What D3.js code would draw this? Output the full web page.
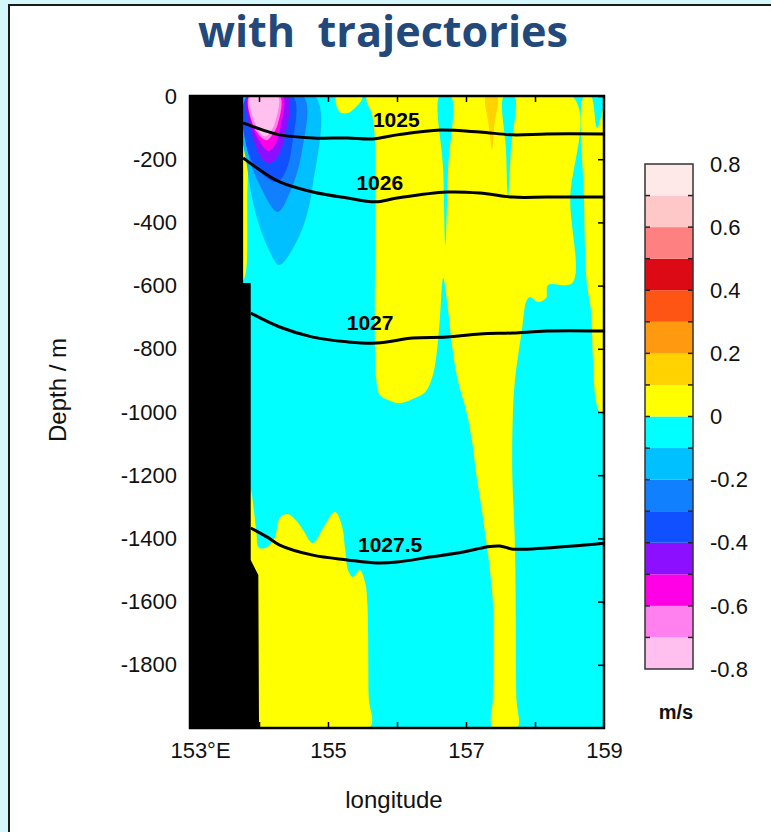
<!DOCTYPE html>
<html><head><meta charset="utf-8">
<script src="https://cdn.jsdelivr.net/npm/d3@7"></script>
<style>body{margin:0;background:#d4f7fc;} svg{display:block}</style>
</head><body><svg id="c" width="771" height="832"></svg>
<script>
// ---------- data ----------
const titleText = "with  trajectories";
const lonDomain = [153, 159];
const depthDomain = [0, 2000];            // metres below surface (drawn as negative labels)
const xLabelTicks = [153, 155, 157, 159];
const xMinorTicks = [154, 155, 156, 157, 158];
const depthTicks = [0, 200, 400, 600, 800, 1000, 1200, 1400, 1600, 1800];
const levelThresholds = [-0.7,-0.6,-0.5,-0.4,-0.3,-0.2,-0.1,0,0.1,0.2,0.3,0.4,0.5,0.6,0.7];
const levelEdges = [-0.8,-0.7,-0.6,-0.5,-0.4,-0.3,-0.2,-0.1,0,0.1,0.2,0.3,0.4,0.5,0.6,0.7,0.8];
const levelColors = ["#ffc0f0","#ff80ee","#ff00e6","#8c10ff","#1050ff","#1080ff","#00c0ff","#00ffff",
                     "#ffff00","#ffd200","#ff9a10","#ff5514","#dc0a14","#ff8080","#ffc8c8","#ffe8e8"];
const cbarLabels = [0.8,0.6,0.4,0.2,0,-0.2,-0.4,-0.6,-0.8];

// velocity regions: [lon, depth]
const regionBase = [[153,0],[159,0],[159,2000],[153,2000]];
const regionYellowMain = [[155.57,0],[158.54,0],[158.51,329],[158.54,592],[158.19,598],[158.16,639],[158.04,652],
  [157.93,636],[157.88,646],[157.81,741],[157.71,899],[157.68,1003],[157.67,1184],[157.71,1427],[157.73,1900],[157.74,2000],
  [157.39,2000],[157.39,1900],[157.39,1604],[157.25,1342],[157.14,1184],[157.10,1111],[157.01,1003],[156.88,899],[156.80,794],
  [156.74,677],[156.67,576],[156.62,709],[156.58,804],[156.52,883],[156.41,937],[156.26,956],[156.04,972],
  [155.87,962],[155.75,946],[155.70,899],[155.68,139],[155.64,60]];
const regionYellowTop = [[155.12,0],[155.49,0],[155.48,16],[155.39,38],[155.29,54],[155.17,51]];
const regionYellowRight = [[158.71,0],[158.81,0],[158.90,101],[159.00,38],[159.00,1000],[158.94,1000],
  [158.88,962],[158.84,835],[158.81,677],[158.75,592],[158.71,329]];
const regionYellowCoast = [[153.77,0],[153.83,0],[153.83,329],[153.81,557],[153.77,582]];
const regionYellowDeep = [[153.88,1247],[153.96,1374],[154.00,1430],[154.12,1427],[154.23,1396],[154.30,1335],
  [154.41,1323],[154.52,1339],[154.64,1374],[154.78,1415],[154.93,1367],[155.10,1316],[155.20,1358],
  [155.25,1437],[155.29,1500],[155.36,1522],[155.46,1500],[155.54,1541],[155.57,1604],[155.59,1900],[155.60,2000],[153.87,2000]];
const regionCyanSpike1 = [[156.62,0],[156.78,0],[156.74,234],[156.70,472],[156.67,234]];
const regionCyanSpike2 = [[157.55,0],[157.70,0],[157.65,171],[157.61,320],[157.58,171]];
const regionOrangeSpike = [[157.29,0],[157.45,0],[157.41,92],[157.38,171],[157.33,92]];
const core015 = [[153.78,0],[153.83,228],[153.97,386],[154.16,494],[154.29,535],[154.59,440],[154.78,282],[154.81,0]];
const core025 = [[153.83,0],[153.84,177],[154.01,282],[154.27,367],[154.45,304],[154.62,177],[154.64,0]];
const core035 = [[153.83,0],[153.84,177],[154.06,250],[154.26,272],[154.38,241],[154.48,155],[154.49,0]];
const core045 = [[153.84,0],[153.90,123],[154.06,203],[154.16,212],[154.26,196],[154.38,123],[154.41,0]];
const core055 = [[153.86,0],[153.93,110],[154.09,168],[154.13,174],[154.21,164],[154.31,100],[154.34,0]];
const core065 = [[153.86,0],[153.93,100],[154.06,136],[154.12,140],[154.17,130],[154.27,90],[154.30,0]];
const core075 = [[153.88,0],[153.93,80],[154.03,122],[154.09,128],[154.14,122],[154.24,78],[154.27,0]];
const landEdge = [[153,0],[153.77,0],[153.77,592],[153.88,592],[153.88,1468],[153.99,1516],[154.00,2000],[153,2000]];

// isopycnals (sigma labels)
const iso1025 = [[153.77,85],[154.06,108],[154.30,123],[154.78,133],[155.28,133],[155.65,136],[156.00,123],[156.58,108],[157.20,114],[157.68,123],[158.17,120],[159.00,120]];
const iso1026 = [[153.77,196],[153.97,228],[154.30,272],[154.78,304],[155.28,323],[155.68,335],[156.00,323],[156.72,304],[157.20,307],[157.68,320],[158.17,320],[159.00,320]];
const iso1027 = [[153.88,687],[154.30,731],[154.78,763],[155.28,778],[155.71,782],[156.23,766],[156.72,763],[157.20,753],[157.68,750],[158.17,744],[159.00,744]];
const iso10275 = [[153.88,1367],[154.12,1396],[154.30,1421],[154.78,1453],[155.28,1468],[155.71,1478],[156.00,1475],[156.48,1459],[156.96,1443],[157.30,1427],[157.49,1424],[157.68,1434],[158.17,1430],[159.00,1415]];
const isoNames = ["1025","1026","1027","1027.5"];
const isoLabelPos = [[155.99,98],[155.75,297],[155.61,741],[155.90,1443]];

// ---------- drawing ----------
const W = 771, H = 832;
const M = {left:190, right:604, top:96, bottom:728};
const x = d3.scaleLinear().domain(lonDomain).range([M.left, M.right]);
const y = d3.scaleLinear().domain(depthDomain).range([M.top, M.bottom]);
const color = d3.scaleThreshold().domain(levelThresholds).range(levelColors);
const font = '"Liberation Sans", Arial, Helvetica, sans-serif';

const svg = d3.select('#c');
svg.append('rect').attr('width',W).attr('height',H).attr('fill','#d4f7fc');
svg.append('rect').attr('x',9).attr('y',5).attr('width',W+20).attr('height',H+20)
  .attr('fill','#fff').attr('stroke','#1a1a1a').attr('stroke-width',2);

svg.append('text').attr('x',383).attr('y',47).attr('text-anchor','middle')
  .attr('font-family','"Open Sans", sans-serif').attr('font-weight',700).attr('font-size',43)
  .attr('fill','#23487a').attr('textLength',370).attr('lengthAdjust','spacingAndGlyphs')
  .style('white-space','pre').text(titleText);

svg.append('defs').append('clipPath').attr('id','clip').append('rect')
  .attr('x',M.left).attr('y',M.top).attr('width',M.right-M.left).attr('height',M.bottom-M.top);
const g = svg.append('g').attr('clip-path','url(#clip)');

const smooth = d3.line().x(d=>x(d[0])).y(d=>y(d[1])).curve(d3.curveCatmullRomClosed.alpha(0.5));
const straight = d3.line().x(d=>x(d[0])).y(d=>y(d[1])).curve(d3.curveLinearClosed);
const open = d3.line().x(d=>x(d[0])).y(d=>y(d[1])).curve(d3.curveCatmullRom.alpha(0.5));

g.append('path').attr('d', straight(regionBase)).attr('fill', color(-0.05));
const layers = [
  [regionYellowMain, 0.05], [regionYellowTop, 0.05], [regionYellowRight, 0.05],
  [regionYellowCoast, 0.05], [regionYellowDeep, 0.05],
  [regionCyanSpike1, -0.05], [regionCyanSpike2, -0.05], [regionOrangeSpike, 0.15],
  [core015, -0.15], [core025, -0.25], [core035, -0.35], [core045, -0.45],
  [core055, -0.55], [core065, -0.65], [core075, -0.75]
];
layers.forEach(([pts, v]) => g.append('path').attr('d', smooth(pts)).attr('fill', color(v)));
g.append('path').attr('d', straight(landEdge)).attr('fill', '#000');

[iso1025, iso1026, iso1027, iso10275].forEach(pts =>
  g.append('path').attr('d', open(pts)).attr('fill','none').attr('stroke','#000').attr('stroke-width',3));
isoLabelPos.forEach((p,i) => g.append('text').attr('x',x(p[0])).attr('y',y(p[1]))
  .attr('text-anchor','middle').attr('font-family',font).attr('font-weight',700).attr('font-size',21)
  .attr('fill','#000').text(isoNames[i]));

// axes
const fmtDepth = d => d === 0 ? '0' : '-' + d;
function styleAxis(sel, fs){
  sel.select('.domain').remove();
  sel.selectAll('line').attr('stroke','#000').attr('stroke-width',1.5);
  sel.selectAll('text').attr('font-family',font).attr('font-size',fs).attr('fill','#111');
}
svg.append('g').attr('transform',`translate(${M.left},0)`)
  .call(d3.axisLeft(y).tickValues(depthTicks).tickSize(-6).tickPadding(13).tickFormat(fmtDepth))
  .call(s=>styleAxis(s,22));
svg.append('g').attr('transform',`translate(${M.right},0)`)
  .call(d3.axisRight(y).tickValues(depthTicks).tickSize(-6).tickFormat(''))
  .call(s=>styleAxis(s,22));
svg.append('g').attr('transform',`translate(0,${M.top})`)
  .call(d3.axisTop(x).tickValues(xMinorTicks).tickSize(-6).tickFormat(''))
  .call(s=>styleAxis(s,22));
svg.append('g').attr('transform',`translate(0,${M.bottom})`)
  .call(d3.axisBottom(x).tickValues(xMinorTicks).tickSize(-6).tickFormat(''))
  .call(s=>styleAxis(s,22));
svg.append('g').attr('transform',`translate(0,${M.bottom})`)
  .call(d3.axisBottom(x).tickValues(xLabelTicks).tickSize(0).tickPadding(14).tickFormat(d => d===153 ? '153°E' : d))
  .call(s=>styleAxis(s,22))
  .call(s=>s.selectAll('text').attr('dx', d => d===153 ? 10 : 0));
svg.append('rect').attr('x',M.left).attr('y',M.top).attr('width',M.right-M.left).attr('height',M.bottom-M.top)
  .attr('fill','none').attr('stroke','#000').attr('stroke-width',2.5);

svg.append('text').attr('transform','translate(58,390) rotate(-90)').attr('text-anchor','middle')
  .attr('dy','0.35em').attr('font-family',font).attr('font-size',24).attr('fill','#111').text('Depth / m');
svg.append('text').attr('x',394).attr('y',808).attr('text-anchor','middle')
  .attr('font-family',font).attr('font-size',24).attr('fill','#111').text('longitude');

// colorbar
const cb = d3.scaleLinear().domain([-0.8,0.8]).range([669,164]);
const cbX = 645, cbW = 48;
const cbg = svg.append('g');
levelColors.forEach((c,i) => cbg.append('rect').attr('x',cbX).attr('y',cb(levelEdges[i+1]))
  .attr('width',cbW).attr('height',cb(levelEdges[i])-cb(levelEdges[i+1])).attr('fill',c));
levelThresholds.forEach(v => {
  cbg.append('line').attr('x1',cbX).attr('x2',cbX+5).attr('y1',cb(v)).attr('y2',cb(v)).attr('stroke','#222').attr('stroke-width',1.5);
  cbg.append('line').attr('x1',cbX+cbW-5).attr('x2',cbX+cbW).attr('y1',cb(v)).attr('y2',cb(v)).attr('stroke','#222').attr('stroke-width',1.5);
});
cbg.append('rect').attr('x',cbX).attr('y',cb(0.8)).attr('width',cbW).attr('height',cb(-0.8)-cb(0.8))
  .attr('fill','none').attr('stroke','#333').attr('stroke-width',1.5);
cbarLabels.forEach(v => cbg.append('text').attr('x',710).attr('y',cb(v)).attr('dy','0.35em')
  .attr('font-family',font).attr('font-size',22).attr('fill','#111').text(v===0?'0':(v<0?'-'+Math.abs(v):String(v))));
svg.append('text').attr('x',676).attr('y',719).attr('text-anchor','middle').attr('font-family',font)
  .attr('font-weight',700).attr('font-size',20).attr('fill','#111').text('m/s');
</script></body></html>
